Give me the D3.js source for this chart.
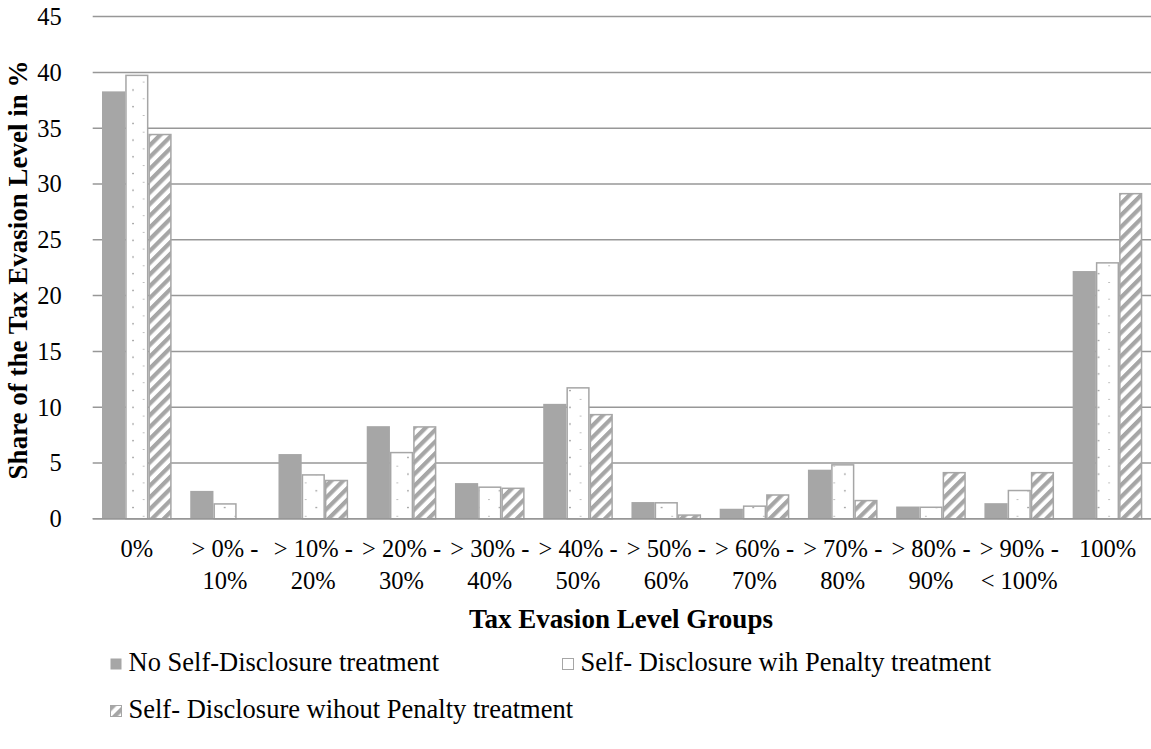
<!DOCTYPE html>
<html>
<head>
<meta charset="utf-8">
<script src="https://cdn.jsdelivr.net/npm/d3@7"></script>
<style>
  html, body { margin: 0; padding: 0; background: #fff; }
  svg { display: block; }
  text { font-family: "Liberation Serif", "Times New Roman", serif; fill: #000; }
</style>
</head>
<body>
<svg id="chart" width="1151" height="749"></svg>
<script>
// Category groups (two-line labels) and the three treatment series, in %
const categories = ["0%", "> 0% - 10%", "> 10% - 20%", "> 20% - 30%", "> 30% - 40%", "> 40% - 50%",
                    "> 50% - 60%", "> 60% - 70%", "> 70% - 80%", "> 80% - 90%", "> 90% - < 100%", "100%"];
const categoryLines = [["0%"], ["> 0% -", "10%"], ["> 10% -", "20%"], ["> 20% -", "30%"], ["> 30% -", "40%"],
                       ["> 40% -", "50%"], ["> 50% -", "60%"], ["> 60% -", "70%"], ["> 70% -", "80%"],
                       ["> 80% -", "90%"], ["> 90% -", "< 100%"], ["100%"]];
const seriesNames = ["No Self-Disclosure treatment", "Self- Disclosure wih Penalty treatment", "Self- Disclosure wihout Penalty treatment"];
const noDisclosure   = [38.3, 2.5, 5.8, 8.3, 3.2, 10.3, 1.5, 0.9, 4.4, 1.1, 1.4, 22.2];
const withPenalty    = [39.8, 1.4, 4.0, 6.0, 2.9, 11.8, 1.5, 1.2, 4.9, 1.1, 2.6, 23.0];
const withoutPenalty = [34.5, 0.0, 3.5, 8.3, 2.8, 9.4, 0.4, 2.2, 1.7, 4.2, 4.2, 29.2];
const yTicks = [0, 5, 10, 15, 20, 25, 30, 35, 40, 45];

const series = [noDisclosure, withPenalty, withoutPenalty];
const grey = "#a6a6a6";
const gridGrey = "#979797";

const svg = d3.select("#chart");
const defs = svg.append("defs");

const x0 = d3.scaleBand().domain(categories).range([92.7, 1151.6]);
const groupPad = 9.3;
const x1 = d3.scaleBand().domain([0, 1, 2]).range([groupPad, x0.bandwidth() - groupPad]);
const y = d3.scaleLinear().domain([0, 45]).range([518.8, 16.6]);

// dotted fill, one pattern per group so the dots line up with each bar's edges
categories.forEach((c, i) => {
  const bx = x0(c) + x1(1);
  const w = x1.bandwidth();
  const p = defs.append("pattern").attr("id", "dots" + i)
    .attr("patternUnits", "userSpaceOnUse")
    .attr("x", bx).attr("y", y(0) - 3).attr("width", w - 2).attr("height", 16.7);
  p.append("rect").attr("width", w).attr("height", 16.7).attr("fill", "#fff");
  p.append("circle").attr("cx", (w - 2) / 2).attr("cy", 0).attr("r", 0.85).attr("fill", "#8f8f8f");
  p.append("circle").attr("cx", 0).attr("cy", 8.35).attr("r", 0.85).attr("fill", "#8f8f8f");
  p.append("circle").attr("cx", w - 2).attr("cy", 8.35).attr("r", 0.85).attr("fill", "#8f8f8f");
});

// diagonal hatch fill
const hatch = defs.append("pattern").attr("id", "hatch")
  .attr("patternUnits", "userSpaceOnUse").attr("width", 8.3).attr("height", 8.3)
  .attr("patternTransform", "rotate(45)");
hatch.append("rect").attr("width", 8.3).attr("height", 8.3).attr("fill", "#fff");
hatch.append("rect").attr("x", 0).attr("width", 4.2).attr("height", 8.3).attr("fill", grey);

const fillFor = (k, i) => k === 0 ? grey : (k === 1 ? `url(#dots${i})` : "url(#hatch)");
const strokes = ["none", grey, grey];

// grid
svg.append("g").selectAll("line").data(yTicks).join("line")
  .attr("x1", 92.7).attr("x2", 1151.6)
  .attr("y1", d => y(d)).attr("y2", d => y(d))
  .attr("stroke", gridGrey).attr("stroke-width", 1.5);

// y axis labels
const yAxis = svg.append("g").attr("transform", "translate(92.7,0)")
  .call(d3.axisLeft(y).tickValues(yTicks).tickSize(0).tickPadding(31));
yAxis.select(".domain").remove();
yAxis.attr("font-family", null).attr("font-size", null);
yAxis.selectAll("text").attr("font-size", 24.5).attr("fill", "#000");

// bars
const groups = svg.append("g").selectAll("g").data(categories).join("g")
  .attr("transform", d => `translate(${x0(d)},0)`);
groups.selectAll("rect").data((d, i) => series.map((s, k) => ({ k, i, v: s[i] })))
  .join("rect")
  .attr("x", d => x1(d.k) + (d.k ? 0.75 : 0))
  .attr("width", d => x1.bandwidth() - (d.k ? 1.5 : 0))
  .attr("y", d => y(d.v) + (d.k ? 0.75 : 0))
  .attr("height", d => Math.max(0, y(0) - y(d.v) - (d.k ? 0.75 : 0)))
  .attr("fill", d => fillFor(d.k, d.i))
  .attr("stroke", d => strokes[d.k])
  .attr("stroke-width", 1.5)
  .attr("display", d => d.v > 0 ? null : "none");

// baseline
svg.append("line").attr("x1", 92.7).attr("x2", 1151.6).attr("y1", y(0)).attr("y2", y(0))
  .attr("stroke", gridGrey).attr("stroke-width", 1.5);

// category labels
const catText = svg.append("g").selectAll("text").data(categories).join("text")
  .attr("x", d => x0(d) + x0.bandwidth() / 2)
  .attr("y", 557)
  .attr("text-anchor", "middle")
  .attr("font-size", 24.5);
catText.selectAll("tspan").data((d, i) => categoryLines[i]).join("tspan")
  .attr("x", function () { return this.parentNode.getAttribute("x"); })
  .attr("dy", (d, j) => j ? 32 : 0)
  .text(d => d);

// axis titles
svg.append("text").attr("x", 621).attr("y", 628).attr("text-anchor", "middle")
  .attr("font-size", 27).attr("font-weight", "bold").text("Tax Evasion Level Groups");
svg.append("text").attr("transform", "translate(27,270) rotate(-90)").attr("text-anchor", "middle")
  .attr("font-size", 27).attr("font-weight", "bold").text("Share of the Tax Evasion Level in %");

// legend
const legendItems = [
  { name: seriesNames[0], k: 0, x: 110, y: 671 },
  { name: seriesNames[1], k: 1, x: 562, y: 671 },
  { name: seriesNames[2], k: 2, x: 110, y: 718 }
];
const leg = svg.append("g").selectAll("g").data(legendItems).join("g")
  .attr("transform", d => `translate(${d.x},${d.y})`);
leg.append("rect").attr("x", 0.5).attr("y", -12.5).attr("width", 11).attr("height", 11)
  .attr("fill", d => d.k === 2 ? "url(#hatch)" : (d.k === 1 ? "#fff" : grey))
  .attr("stroke", d => strokes[d.k]).attr("stroke-width", 1);
leg.append("text").attr("x", 18.5).attr("y", 0).attr("font-size", 26.5).text(d => d.name);
</script>
</body>
</html>
